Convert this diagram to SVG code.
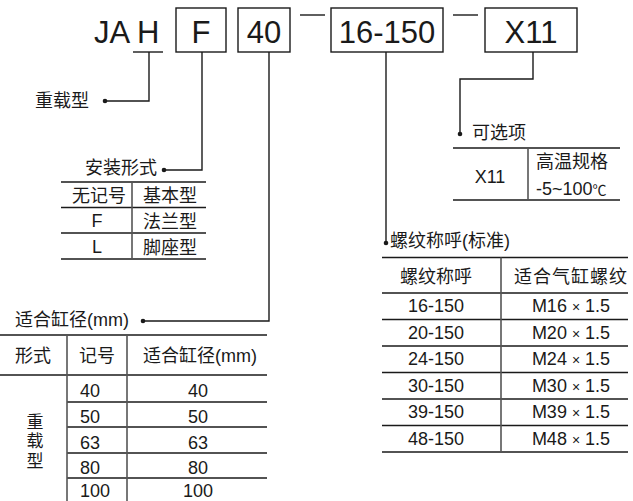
<svg xmlns="http://www.w3.org/2000/svg" width="633" height="501" viewBox="0 0 633 501">
<style>
.t{font-family:"Liberation Sans","Noto Sans CJK SC",sans-serif;fill:#1a1a1a}
.big{font-size:31px}
.c{font-size:18px}
.n{font-size:18px}
.m{text-anchor:middle}
.ln{stroke:#1a1a1a;stroke-width:1.4;fill:none}
.g{stroke:#555;stroke-width:1.6;fill:none}
.box{fill:#fff;stroke:#1a1a1a;stroke-width:1.4}
</style>
<defs>
<marker id="dot" viewBox="-3 -3 6 6" markerWidth="6" markerHeight="6" markerUnits="userSpaceOnUse"><circle r="2.3" fill="#1a1a1a"/></marker>
</defs>
<rect width="633" height="501" fill="#fff"/>

<g id="code-JAH">
<text x="94" y="43" class="t big">JA H</text>
<line x1="133" y1="52" x2="163" y2="52" class="ln"/>
</g>
<g id="box-F"><rect x="176" y="8" width="50" height="44" class="box"/><text x="201" y="43" class="t big m">F</text></g>
<g id="box-40"><rect x="238" y="8" width="52" height="44" class="box"/><text x="264" y="43" class="t big m">40</text></g>
<g id="dash-1"><line x1="300" y1="15" x2="325" y2="15" class="ln"/></g>
<g id="box-16-150"><rect x="331" y="8" width="112" height="44" class="box"/><text x="387" y="43" class="t big m">16-150</text></g>
<g id="dash-2"><line x1="453" y1="15" x2="478" y2="15" class="ln"/></g>
<g id="box-X11"><rect x="485" y="8" width="92" height="44" class="box"/><text x="531" y="43" class="t big m">X11</text></g>

<g id="connectors">
<polyline points="149,52 149,101 105,101" class="ln" marker-end="url(#dot)"/>
<polyline points="202,52 202,170 164,170" class="ln" marker-end="url(#dot)"/>
<polyline points="269,52 269,321 143,321" class="ln" marker-end="url(#dot)"/>
<polyline points="386,52 386,243" class="ln" marker-end="url(#dot)"/>
<polyline points="533,52 533,79 460,79 460,134" class="ln" marker-end="url(#dot)"/>
</g>

<g id="label-type"><text x="35" y="107" class="t c">重载型</text></g>

<g id="mount">
<text x="85" y="174" class="t c">安装形式</text>
<line x1="61" y1="182" x2="206" y2="182" class="ln"/>
<line x1="61" y1="207.5" x2="206" y2="207.5" class="ln"/>
<line x1="61" y1="233" x2="206" y2="233" class="ln"/>
<line x1="61" y1="259" x2="206" y2="259" class="ln"/>
<line x1="132" y1="182" x2="132" y2="259" class="g"/>
<text x="99" y="202" class="t c m">无记号</text>
<text x="170" y="202" class="t c m">基本型</text>
<text x="97" y="227" class="t n m">F</text>
<text x="170" y="228" class="t c m">法兰型</text>
<text x="97" y="253" class="t n m">L</text>
<text x="170" y="254" class="t c m">脚座型</text>
</g>

<g id="bore">
<text x="15" y="326" class="t c">适合缸径<tspan class="n">(mm)</tspan></text>
<line x1="0" y1="335" x2="267" y2="335" class="ln"/>
<line x1="0" y1="375" x2="267" y2="375" class="ln"/>
<line x1="67" y1="402" x2="267" y2="402" class="ln"/>
<line x1="67" y1="427" x2="267" y2="427" class="ln"/>
<line x1="67" y1="453" x2="267" y2="453" class="ln"/>
<line x1="67" y1="478" x2="267" y2="478" class="ln"/>
<line x1="67" y1="335" x2="67" y2="501" class="g"/>
<line x1="127" y1="335" x2="127" y2="501" class="g"/>
<text x="33" y="362" class="t c m">形式</text>
<text x="97" y="362" class="t c m">记号</text>
<text x="200" y="362" class="t c m">适合缸径<tspan class="n">(mm)</tspan></text>
<text x="35" y="428" class="t m" font-size="17">重</text>
<text x="35" y="447" class="t m" font-size="17">载</text>
<text x="35" y="467" class="t m" font-size="17">型</text>
<text x="80" y="397" class="t n">40</text>
<text x="80" y="423" class="t n">50</text>
<text x="80" y="449" class="t n">63</text>
<text x="80" y="474" class="t n">80</text>
<text x="80" y="497" class="t n">100</text>
<text x="198" y="397" class="t n m">40</text>
<text x="198" y="423" class="t n m">50</text>
<text x="198" y="449" class="t n m">63</text>
<text x="198" y="474" class="t n m">80</text>
<text x="198" y="497" class="t n m">100</text>
</g>

<g id="thread">
<text x="390" y="247" class="t c">螺纹称呼<tspan class="n">(</tspan>标准<tspan class="n">)</tspan></text>
<line x1="382" y1="257.5" x2="628" y2="257.5" class="ln"/>
<line x1="382" y1="293" x2="628" y2="293" class="ln"/>
<line x1="382" y1="319.5" x2="628" y2="319.5" class="ln"/>
<line x1="382" y1="346" x2="628" y2="346" class="ln"/>
<line x1="382" y1="372.5" x2="628" y2="372.5" class="ln"/>
<line x1="382" y1="399" x2="628" y2="399" class="ln"/>
<line x1="382" y1="425.5" x2="628" y2="425.5" class="ln"/>
<line x1="382" y1="452" x2="628" y2="452" class="ln"/>
<line x1="501" y1="257.5" x2="501" y2="452" class="g"/>
<text x="436" y="283" class="t c m">螺纹称呼</text>
<text x="571" y="283" class="t c m" letter-spacing="1">适合气缸螺纹</text>
<text x="436" y="312" class="t n m">16-150</text>
<text x="436" y="339" class="t n m">20-150</text>
<text x="436" y="365" class="t n m">24-150</text>
<text x="436" y="392" class="t n m">30-150</text>
<text x="436" y="418" class="t n m">39-150</text>
<text x="436" y="445" class="t n m">48-150</text>
<text x="571" y="312" class="t n m">M16 <tspan font-size="14">×</tspan> 1.5</text>
<text x="571" y="339" class="t n m">M20 <tspan font-size="14">×</tspan> 1.5</text>
<text x="571" y="365" class="t n m">M24 <tspan font-size="14">×</tspan> 1.5</text>
<text x="571" y="392" class="t n m">M30 <tspan font-size="14">×</tspan> 1.5</text>
<text x="571" y="418" class="t n m">M39 <tspan font-size="14">×</tspan> 1.5</text>
<text x="571" y="445" class="t n m">M48 <tspan font-size="14">×</tspan> 1.5</text>
</g>

<g id="option">
<text x="472" y="139" class="t c">可选项</text>
<line x1="453" y1="148" x2="620" y2="148" class="ln"/>
<line x1="453" y1="200" x2="620" y2="200" class="ln"/>
<line x1="528" y1="148" x2="528" y2="200" class="g"/>
<text x="490" y="183" class="t n m">X11</text>
<text x="536" y="168" class="t c">高温规格</text>
<text x="536" y="195" class="t n">-5~100<tspan font-size="14">℃</tspan></text>
</g>
</svg>
